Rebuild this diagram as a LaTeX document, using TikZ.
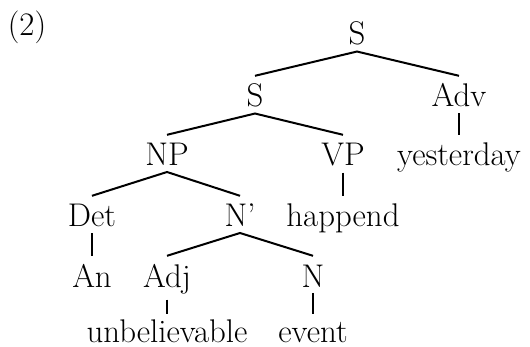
\documentclass[tikz,border=0pt]{standalone}
\usepackage{fontspec}
\begin{document}
\begin{tikzpicture}[x=0.5pt,y=-0.5pt,
  font=\fontsize{16.4}{19}\selectfont,
  lbl/.style={anchor=base,inner xsep=0pt,inner ysep=2.8pt,text height=12.6pt},
  leaf/.style={anchor=base,inner sep=0pt,text height=14.4pt,text depth=0pt},
  edge/.style={line width=1pt}]
\useasboundingbox (0,0) rectangle (530,347);
\node[anchor=base,inner sep=0pt] (ex) at (27,35.5) {(2)};
\node[lbl] (s0) at (357,45) {S};
\node[lbl] (s1) at (255,107) {S};
\node[lbl] (adv) at (459,107) {Adv};
\node[lbl] (np) at (167,166) {NP};
\node[lbl] (vp) at (343,166) {VP};
\node[lbl] (yest) at (459,166) {yesterday};
\node[lbl] (det) at (92,227) {Det};
\node[lbl] (nbar) at (240,227) {N’};
\node[lbl] (happ) at (343,227) {happend};
\node[lbl] (an) at (92,287) {An};
\node[lbl] (adj) at (167,287) {Adj};
\node[lbl] (n) at (313,287) {N};
\node[leaf] (unb) at (167,343) {unbelievable};
\node[leaf] (ev) at (313,343) {event};
\draw[edge] (s1.north) -- (s0.south) -- (adv.north);
\draw[edge] (adv.south) -- (yest.north);
\draw[edge] (np.north) -- (s1.south) -- (vp.north);
\draw[edge] (vp.south) -- (happ.north);
\draw[edge] (det.north) -- (np.south) -- (nbar.north);
\draw[edge] (det.south) -- (an.north);
\draw[edge] (adj.north) -- (nbar.south) -- (n.north);
\draw[edge] (adj.south) -- (unb.north);
\draw[edge] (n.south) -- (ev.north);
\end{tikzpicture}
\end{document}
